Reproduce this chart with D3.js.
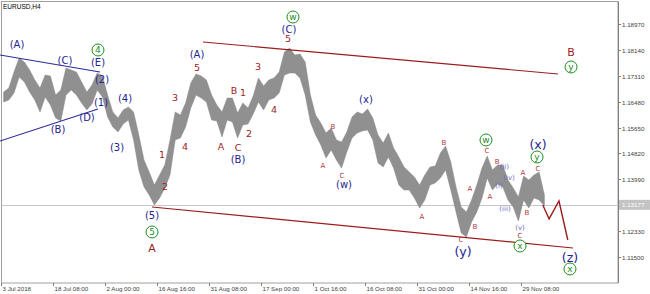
<!DOCTYPE html>
<html>
<head>
<meta charset="utf-8">
<script src="https://cdn.jsdelivr.net/npm/d3@7"></script>
<style>
  body { margin: 0; background: #fff; }
  svg { display: block; font-family: "Liberation Sans", Arial, sans-serif; }
</style>
</head>
<body>
<svg id="chart" width="650" height="294"></svg>
<script>
// EURUSD H4, one slot = ~7 H4 bars
const symbol = "EURUSD,H4";
const timeLabels = ["3 Jul 2018", "18 Jul 08:00", "2 Aug 00:00", "16 Aug 16:00", "31 Aug 08:00",
  "17 Sep 00:00", "1 Oct 16:00", "16 Oct 08:00", "31 Oct 00:00", "14 Nov 16:00", "29 Nov 08:00"];
const priceTicks = [1.18970, 1.18140, 1.17310, 1.16480, 1.15650, 1.14820, 1.13990, 1.13160, 1.12330, 1.11500];
const lastPrice = 1.13177;

const highs = [
  1.16786, 1.16914, 1.17426, 1.17873, 1.17746, 1.17490, 1.17170, 1.16914, 1.17330, 1.17298,
  1.16690, 1.16850, 1.17554, 1.17490, 1.17426, 1.17106, 1.16786, 1.17010, 1.17394, 1.17298,
  1.16690, 1.16147, 1.15955, 1.16211, 1.16307, 1.16147, 1.15411, 1.14612, 1.14228, 1.13813,
  1.14132, 1.14452, 1.15252, 1.16147, 1.16051, 1.16435, 1.17074, 1.17362, 1.17298, 1.17170,
  1.16690, 1.16371, 1.16147, 1.16594, 1.16594, 1.16115, 1.16435, 1.16275, 1.16658, 1.17234,
  1.16978, 1.17170, 1.17234, 1.17426, 1.18065, 1.18193, 1.17969, 1.18001, 1.17746, 1.16690,
  1.16051, 1.15795, 1.15475, 1.15635, 1.15252, 1.15188, 1.15507, 1.15987, 1.16147, 1.16083,
  1.16243, 1.15955, 1.15411, 1.15156, 1.15475, 1.14996, 1.14708, 1.14388, 1.14228, 1.14068,
  1.13813, 1.14132, 1.14388, 1.14420, 1.14836, 1.15060, 1.14548, 1.13749, 1.13109, 1.12949,
  1.13333, 1.13813, 1.14356, 1.14740, 1.14292, 1.14452, 1.14452, 1.13973, 1.13717, 1.13429,
  1.14100, 1.13973, 1.14132, 1.14228, 1.13493];
const lows = [
  1.16467, 1.16531, 1.16754, 1.17266, 1.17106, 1.16786, 1.16531, 1.16147, 1.16626, 1.16371,
  1.15955, 1.15859, 1.16690, 1.16850, 1.16690, 1.16435, 1.16211, 1.16403, 1.16850, 1.16626,
  1.15987, 1.15667, 1.15507, 1.15763, 1.15891, 1.15252, 1.14292, 1.13749, 1.13493, 1.13173,
  1.13397, 1.13717, 1.14132, 1.15252, 1.15315, 1.15667, 1.16275, 1.16690, 1.16594, 1.16467,
  1.15891, 1.15859, 1.15347, 1.15891, 1.15827, 1.15315, 1.15731, 1.15763, 1.16083, 1.16467,
  1.16211, 1.16531, 1.16594, 1.16754, 1.17330, 1.17394, 1.17394, 1.17234, 1.16690, 1.15827,
  1.15411, 1.15092, 1.14676, 1.14932, 1.14612, 1.14356, 1.14868, 1.15315, 1.15475, 1.15539,
  1.15571, 1.15252, 1.14516, 1.14388, 1.14708, 1.14356, 1.13813, 1.13653, 1.13653, 1.13397,
  1.13077, 1.13333, 1.13813, 1.13877, 1.14036, 1.14292, 1.13653, 1.12949, 1.12278, 1.12150,
  1.12630, 1.12949, 1.13397, 1.14036, 1.13653, 1.13845, 1.13749, 1.13333, 1.13109, 1.12662,
  1.13333, 1.13077, 1.13397, 1.13333, 1.13141];

// annotation lines: [slot, price]
const triangleUpper = [[-0.2, 1.17969], [19.04, 1.17426]];
const triangleLower = [[-0.2, 1.15220], [18.65, 1.16243]];
const channelUpper = [[38.85, 1.18385], [107.1, 1.17362]];
const channelLower = [[29.04, 1.13109], [110.0, 1.11798]];
const forecast = [[104.2, 1.13173], [105.4, 1.12726], [107.3, 1.13301], [109.0, 1.12054]];

// wave labels: [text, slot, price]
const navyLabels = [["(A)", 3.08, 1.18321], ["(C)", 12.31, 1.17810], ["(E)", 18.65, 1.17746],
  ["(2)", 19.42, 1.17202], ["(1)", 19.23, 1.16467], ["(D)", 16.54, 1.15987], ["(B)", 10.96, 1.15603],
  ["(4)", 23.85, 1.16594], ["(3)", 22.31, 1.15028], ["(5)", 29.04, 1.12853], ["(A)", 37.69, 1.18001],
  ["(C)", 55.38, 1.18801], ["(B)", 45.58, 1.14644], ["(x)", 70.19, 1.16563], ["(w)", 65.96, 1.13845]];
const navyBigLabels = [["(y)", 88.85, 1.11670], ["(x)", 103.27, 1.15092], ["(z)", 109.42, 1.11478]];
const minorLabels = [["(ii)", 96.8, 1.14420], ["(i)", 95.77, 1.13781], ["(iv)", 97.69, 1.14068],
  ["(iii)", 96.92, 1.13077], ["(v)", 99.81, 1.12438]];
const circledLabels = [["4", 18.65, 1.18129], ["5", 29.04, 1.12310], ["w", 56.15, 1.19184],
  ["w", 93.27, 1.15252], ["y", 109.62, 1.17586], ["y", 103.08, 1.14708], ["x", 99.81, 1.11862],
  ["x", 109.42, 1.11127]];
const redLabels = [["5", 37.69, 1.17554], ["3", 33.46, 1.16594], ["4", 35.38, 1.15028],
  ["1", 30.96, 1.14772], ["2", 31.54, 1.13749], ["A", 42.31, 1.15028], ["C", 45.58, 1.14996],
  ["B", 44.81, 1.16818], ["1", 46.54, 1.16754], ["2", 47.69, 1.15443], ["3", 49.42, 1.17586],
  ["4", 52.5, 1.16211], ["5", 55.19, 1.18481]];
const redBigLabels = [["A", 29.04, 1.11798], ["B", 109.62, 1.18065]];
const redSmallLabels = [["A", 61.92, 1.14452], ["B", 63.85, 1.15699], ["C", 65.58, 1.14132],
  ["A", 80.96, 1.12821], ["B", 85.19, 1.15156], ["C", 88.46, 1.12054], ["A", 90.19, 1.13685],
  ["B", 91.15, 1.12470], ["C", 93.46, 1.14900], ["A", 94.04, 1.13429], ["B", 95.4, 1.14580],
  ["A", 100.38, 1.14228], ["B", 101.15, 1.12949], ["C", 103.27, 1.14356], ["C", 99.81, 1.12182]];

const plot = { left: 1.5, top: 1.5, right: 618, bottom: 283 };

const x = d3.scaleLinear().domain([0, 100]).range([1, 521]);
const y = d3.scaleLinear().domain([1.11500, 1.18970]).range([257.3, 23.7]);

const svg = d3.select("#chart");

// frame
svg.append("rect")
  .attr("x", plot.left).attr("y", plot.top)
  .attr("width", plot.right - plot.left).attr("height", plot.bottom - plot.top)
  .attr("fill", "none").attr("stroke", "#a0a0a0");

svg.append("text").attr("x", 3).attr("y", 8.5)
  .attr("font-size", 6.5).attr("fill", "#000").text(symbol);

// current price line
svg.append("line")
  .attr("x1", plot.left).attr("x2", plot.right)
  .attr("y1", Math.round(y(lastPrice)) + 0.5).attr("y2", Math.round(y(lastPrice)) + 0.5)
  .attr("stroke", "#c8c8c8");

// price bars drawn as the high/low band
const slots = highs.map((h, i) => ({ i, h, l: lows[i] }));
svg.append("path")
  .datum(slots)
  .attr("d", d3.area().x(d => x(d.i + 0.5)).y0(d => y(d.l)).y1(d => y(d.h)))
  .attr("fill", "#909090").attr("stroke", "#888").attr("stroke-width", 0.5);

const line = d3.line().x(d => x(d[0])).y(d => y(d[1]));

[triangleUpper, triangleLower].forEach(seg => {
  svg.append("path").attr("d", line(seg)).attr("fill", "none")
    .attr("stroke", "#2a2a96").attr("stroke-width", 1.1);
});
[channelUpper, channelLower].forEach(seg => {
  svg.append("path").attr("d", line(seg)).attr("fill", "none")
    .attr("stroke", "#9c1c1c").attr("stroke-width", 1.2);
});
svg.append("path").attr("d", line(forecast)).attr("fill", "none")
  .attr("stroke", "#9c1c1c").attr("stroke-width", 1.4);

// right price axis
const yAxis = svg.append("g");
yAxis.append("line").attr("x1", plot.right + 0.5).attr("x2", plot.right + 0.5)
  .attr("y1", plot.top).attr("y2", plot.bottom).attr("stroke", "#808080");
priceTicks.filter(p => Math.abs(y(p) - y(lastPrice)) > 6).forEach(p => {
  const ty = Math.round(y(p)) + 0.5;
  yAxis.append("line").attr("x1", plot.right).attr("x2", plot.right + 3)
    .attr("y1", ty).attr("y2", ty).attr("stroke", "#808080");
  yAxis.append("text").attr("x", plot.right + 4).attr("y", ty + 2.2)
    .attr("font-size", 6.2).attr("fill", "#404040").text(p.toFixed(5));
});
const ly = y(lastPrice);
yAxis.append("rect").attr("x", plot.right + 1).attr("y", ly - 5)
  .attr("width", 31).attr("height", 10).attr("fill", "#c4c4c4");
yAxis.append("text").attr("x", plot.right + 4).attr("y", ly + 2.2)
  .attr("font-size", 6.2).attr("fill", "#ffffff").text(lastPrice.toFixed(5));

// bottom time axis
const xAxis = svg.append("g");
timeLabels.forEach((t, i) => {
  const tx = Math.round(x(i * 10)) + 0.5;
  xAxis.append("line").attr("x1", tx).attr("x2", tx)
    .attr("y1", plot.bottom).attr("y2", plot.bottom + 3).attr("stroke", "#808080");
  xAxis.append("text").attr("x", tx + 1).attr("y", 290.5)
    .attr("font-size", 6.2).attr("fill", "#404040").text(t);
});

// wave labels
function labels(data, color, size) {
  svg.append("g").selectAll("text").data(data).enter().append("text")
    .attr("x", d => x(d[1])).attr("y", d => y(d[2]))
    .attr("dy", "0.36em").attr("text-anchor", "middle")
    .attr("font-family", "'DejaVu Sans', Verdana, sans-serif")
    .attr("font-size", size).attr("fill", color)
    .text(d => d[0]);
}
labels(navyLabels, "#24248e", 10);
labels(navyBigLabels, "#24248e", 12.5);
labels(minorLabels, "#6c6cc4", 7);
labels(redLabels, "#9c1c1c", 9.5);
labels(redBigLabels, "#9c1c1c", 11);
labels(redSmallLabels, "#b03a3a", 7);

const circ = svg.append("g").selectAll("g").data(circledLabels).enter().append("g")
  .attr("transform", d => `translate(${x(d[1])},${y(d[2])})`);
circ.append("circle").attr("r", 6).attr("fill", "#fff")
  .attr("stroke", "#1e8c1e").attr("stroke-width", 1);
circ.append("text").attr("dy", "0.34em").attr("text-anchor", "middle")
  .attr("font-family", "'DejaVu Sans', Verdana, sans-serif")
  .attr("font-size", 9).attr("fill", "#1e8c1e").text(d => d[0]);
</script>
</body>
</html>
